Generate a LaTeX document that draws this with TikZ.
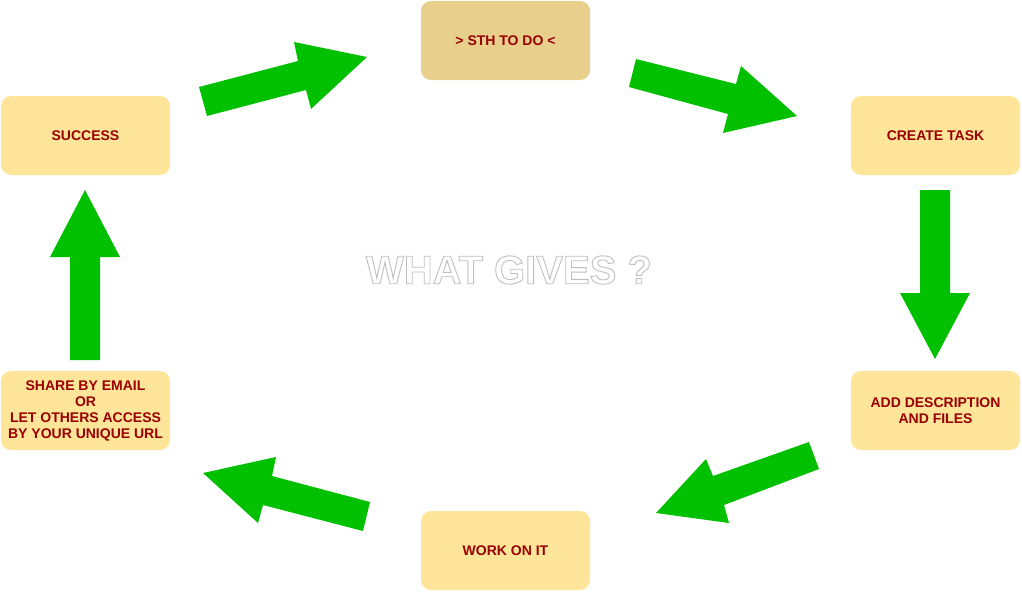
\documentclass[tikz,border=0pt]{standalone}
\usepackage{fontspec}
\setmainfont{Liberation Sans}
\definecolor{boxfill}{HTML}{FFE599}
\definecolor{topfill}{HTML}{E8D08C}
\definecolor{txtred}{HTML}{990000}
\definecolor{arrowgreen}{HTML}{00C000}
\tikzset{
  stepbox/.style={rounded corners=10pt, fill=boxfill, minimum width=169pt, minimum height=79pt,
    inner sep=0pt, align=center, text=txtred, font=\fontsize{14}{16}\selectfont\bfseries},
  blockarrow/.style={fill=arrowgreen, draw=none},
}
\begin{document}
\begin{tikzpicture}[x=1pt,y=-1pt]
\useasboundingbox (0,0) rectangle (1022,592);
\fill[white] (0,0) rectangle (1022,592);
\node[stepbox, fill=topfill] (todo) at (505.5,40.5) {> STH TO DO <};
\node[stepbox] (success) at (85.5,135.5) {SUCCESS};
\node[stepbox] (create) at (935.5,135.5) {CREATE TASK};
\node[stepbox] (share) at (85.5,410.5) {SHARE BY EMAIL\\OR\\LET OTHERS ACCESS\\BY YOUR UNIQUE URL};
\node[stepbox] (add) at (935.5,410.5) {ADD DESCRIPTION\\AND FILES};
\node[stepbox] (work) at (505.5,550.5) {WORK ON IT};
\node[text=gray!50, font=\fontsize{40}{40}\selectfont\bfseries] (q) at (509,270)
  {\special{pdf:literal direct 0.9 w 1 Tr}WHAT GIVES ?\special{pdf:literal direct 0 Tr}};
% success -> todo
\fill[blockarrow] (199,87) -- (298,61) -- (294,42) -- (367,57) -- (311,109) -- (306,90) -- (207,116) -- cycle;
% todo -> create
\fill[blockarrow] (636,59) -- (736,84) -- (741,66) -- (797,116) -- (723,133) -- (728,114) -- (629,87) -- cycle;
% create -> add
\fill[blockarrow] (920,190) -- (950,190) -- (950,293) -- (970,293) -- (935,359) -- (900,293) -- (920,293) -- cycle;
% add -> work
\fill[blockarrow] (809,442) -- (819,469) -- (724,505) -- (729,523) -- (656,513) -- (706,459) -- (713,476) -- cycle;
% work -> share
\fill[blockarrow] (370,502) -- (363,531) -- (263,505) -- (258,523) -- (203,473) -- (276,457) -- (272,476) -- cycle;
% share -> success
\fill[blockarrow] (70,360) -- (70,257) -- (50,257) -- (85,190) -- (120,257) -- (100,257) -- (100,360) -- cycle;
\end{tikzpicture}
\end{document}
